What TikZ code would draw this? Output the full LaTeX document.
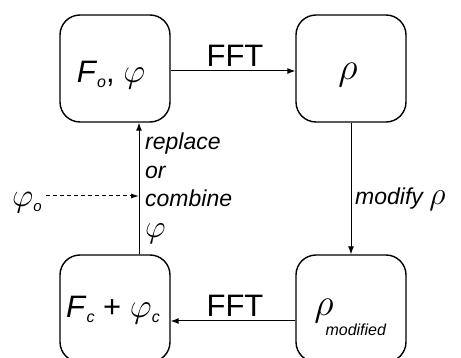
\RequirePackage{fix-cm}
\documentclass[tikz,border=0pt]{standalone}
\usepackage{fontspec}
\setmainfont{Liberation Sans}
\usetikzlibrary{arrows.meta}
\newcommand{\lowsub}[2][16]{\raisebox{-5pt}{\fontsize{#1}{#1}\selectfont\itshape #2}}
\begin{document}
\begin{tikzpicture}[x=1pt,y=-1pt,
  box/.style={draw,line width=1.4pt,rounded corners=20pt,minimum width=110pt,minimum height=107pt,inner sep=0pt},
  conn/.style={line width=1pt,-{Latex[length=8pt,width=6pt]}},
  big/.style={font=\fontsize{31}{34}\selectfont,inner sep=0pt},
  greek/.style={font=\fontsize{38}{40}\selectfont,inner sep=0pt},
  lab/.style={font=\fontsize{23}{28.5}\selectfont\itshape,inner sep=0pt}]
\useasboundingbox (0,0) rectangle (461,358);
\clip (0,0) rectangle (461,358);
\node[box] (TL) at (115,68.5) {};
\node[box] (TR) at (351,68.5) {};
\node[box] (BL) at (115,308.5) {};
\node[box] (BR) at (351,308.5) {};
% box contents
\node[big,anchor=base] (tlt) at (111,83) {\textit{F}\lowsub{o}, {\fontsize{34}{34}\selectfont$\varphi$}};
\node[greek,anchor=base] (trt) at (348,80) {$\rho$};
\node[big,anchor=base] (blt) at (113,318) {\textit{F}\lowsub{c} + {\fontsize{34}{34}\selectfont$\varphi$}\lowsub{c}};
\node[greek,anchor=base] (brt) at (324,316) {$\rho$};
\node[font=\fontsize{16}{17}\selectfont\itshape,anchor=base west] (mod) at (322,336) {modified};
% connectors
\draw[conn] (TL.east |- 0,71) -- (TR.west |- 0,71);
\draw[conn] ([xshift=24pt]BL.north) -- ([xshift=24pt]TL.south);
\draw[conn] (TR.south) -- (BR.north);
\draw[conn] (BR.west |- 0,321) -- (BL.east |- 0,321);
\node[big,anchor=base] (f1) at (235,67) {FFT};
\node[big,anchor=base] (f2) at (235,317) {FFT};
\node[lab,anchor=north west,align=left] (rep) at (145,133) {replace\\or\\combine\\[2pt]{\fontsize{32}{32}\selectfont$\varphi$}};
\node[lab,anchor=base west] (modi) at (355,205) {modify {\fontsize{32}{32}\selectfont$\rho$}};
\node[font=\fontsize{33}{33}\selectfont,anchor=base,inner sep=0pt] (phio) at (27,207) {$\varphi$\lowsub[15]{o}};
\coordinate (j) at (139,196);
\draw[line width=1pt,dashed,dash pattern=on 4pt off 3pt,-{Latex[length=8pt,width=5pt]}] ([xshift=4pt]phio.east |- 0,196) -- (j);
\end{tikzpicture}
\end{document}
